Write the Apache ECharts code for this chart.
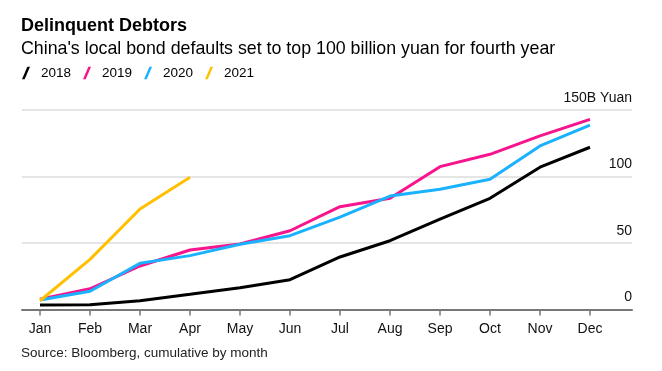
<!DOCTYPE html>
<html>
<head>
<meta charset="utf-8">
<script src="https://cdn.jsdelivr.net/npm/echarts@6/dist/echarts.min.js"></script>
<style>html,body{margin:0;padding:0;background:#fff;}#c{width:662px;height:371px;}</style>
</head>
<body>
<div id="c"></div>
<script>
var months = ['Jan','Feb','Mar','Apr','May','Jun','Jul','Aug','Sep','Oct','Nov','Dec'];
var yearNames = ['2018','2019','2020','2021'];
var y2018 = [3.4, 3.5, 6.6, 11.4, 16.4, 22.4, 39.5, 51.7, 68, 83.6, 107, 122];
var y2019 = [7.7, 15.6, 32.7, 44.7, 49.2, 59.2, 77.3, 83.6, 107.4, 116.7, 130.5, 143];
var y2020 = [7.1, 13.7, 34.7, 40.5, 49, 55.5, 69.5, 85.3, 90.4, 97.9, 123, 138.7];
var y2021 = [6.6, 37.7, 75.6, 99.4];
var yTicks = [0, 50, 100, 150];
var colors = ['#000000', '#f7148c', '#1ab2ff', '#ffc000'];

var seriesData = [y2018, y2019, y2020, y2021];
var monthIdx = months.map(function (m, i) { return i; });
var FONT = '"Liberation Sans", Arial, sans-serif';

var chart = echarts.init(document.getElementById('c'), null, { renderer: 'canvas' });
chart.setOption({
  animation: false,
  backgroundColor: '#ffffff',
  title: [{
    text: 'Delinquent Debtors',
    subtext: "China's local bond defaults set to top 100 billion yuan for fourth year",
    left: 21, top: 17, padding: 0, itemGap: 5,
    textStyle: { fontFamily: FONT, fontSize: 18, fontWeight: 'bold', color: '#000' },
    subtextStyle: { fontFamily: FONT, fontSize: 17.8, color: '#000' }
  }, {
    text: 'Source: Bloomberg, cumulative by month',
    left: 21, top: 346, padding: 0,
    textStyle: { fontFamily: FONT, fontSize: 13.5, fontWeight: 'normal', color: '#222' }
  }],
  legend: {
    left: 22, top: 66, padding: 0,
    itemWidth: 8, itemHeight: 13, itemGap: 12,
    icon: 'path://M0,14 L6,0 L9,0 L3,14 Z',
    data: yearNames,
    textStyle: { fontFamily: FONT, fontSize: 13.5, color: '#000', padding: [0, 0, 0, 6] }
  },
  grid: { left: 22, right: 30, top: 110, bottom: 61.5, containLabel: false },
  xAxis: {
    type: 'value', min: -0.36, max: 11.84,
    axisLine: { show: true, lineStyle: { color: '#777', width: 2 } },
    axisTick: { show: true, customValues: monthIdx, length: 6, lineStyle: { color: '#777', width: 1.5 } },
    axisLabel: {
      customValues: monthIdx, margin: 13,
      fontFamily: FONT, fontSize: 14, color: '#111',
      formatter: function (v) { return months[Math.round(v)]; }
    },
    splitLine: { show: false }
  },
  yAxis: {
    type: 'value', position: 'right', min: 0, max: 150, interval: 50,
    axisLine: { show: false }, axisTick: { show: false },
    splitLine: { show: true, lineStyle: { color: '#dcdcdc', width: 1.5 } },
    axisLabel: {
      inside: true, margin: 0, align: 'right', verticalAlign: 'bottom',
      padding: [0, 0, 5, 0],
      fontFamily: FONT, fontSize: 14, color: '#111',
      formatter: function (v) { return v === yTicks[yTicks.length - 1] ? v + 'B Yuan' : String(v); }
    }
  },
  series: yearNames.map(function (name, k) {
    return {
      name: name, type: 'line', symbol: 'none', smooth: false,
      color: colors[k],
      lineStyle: { width: 3, color: colors[k] },
      data: seriesData[k].map(function (v, i) { return [i, v]; })
    };
  })
});
</script>
</body>
</html>
